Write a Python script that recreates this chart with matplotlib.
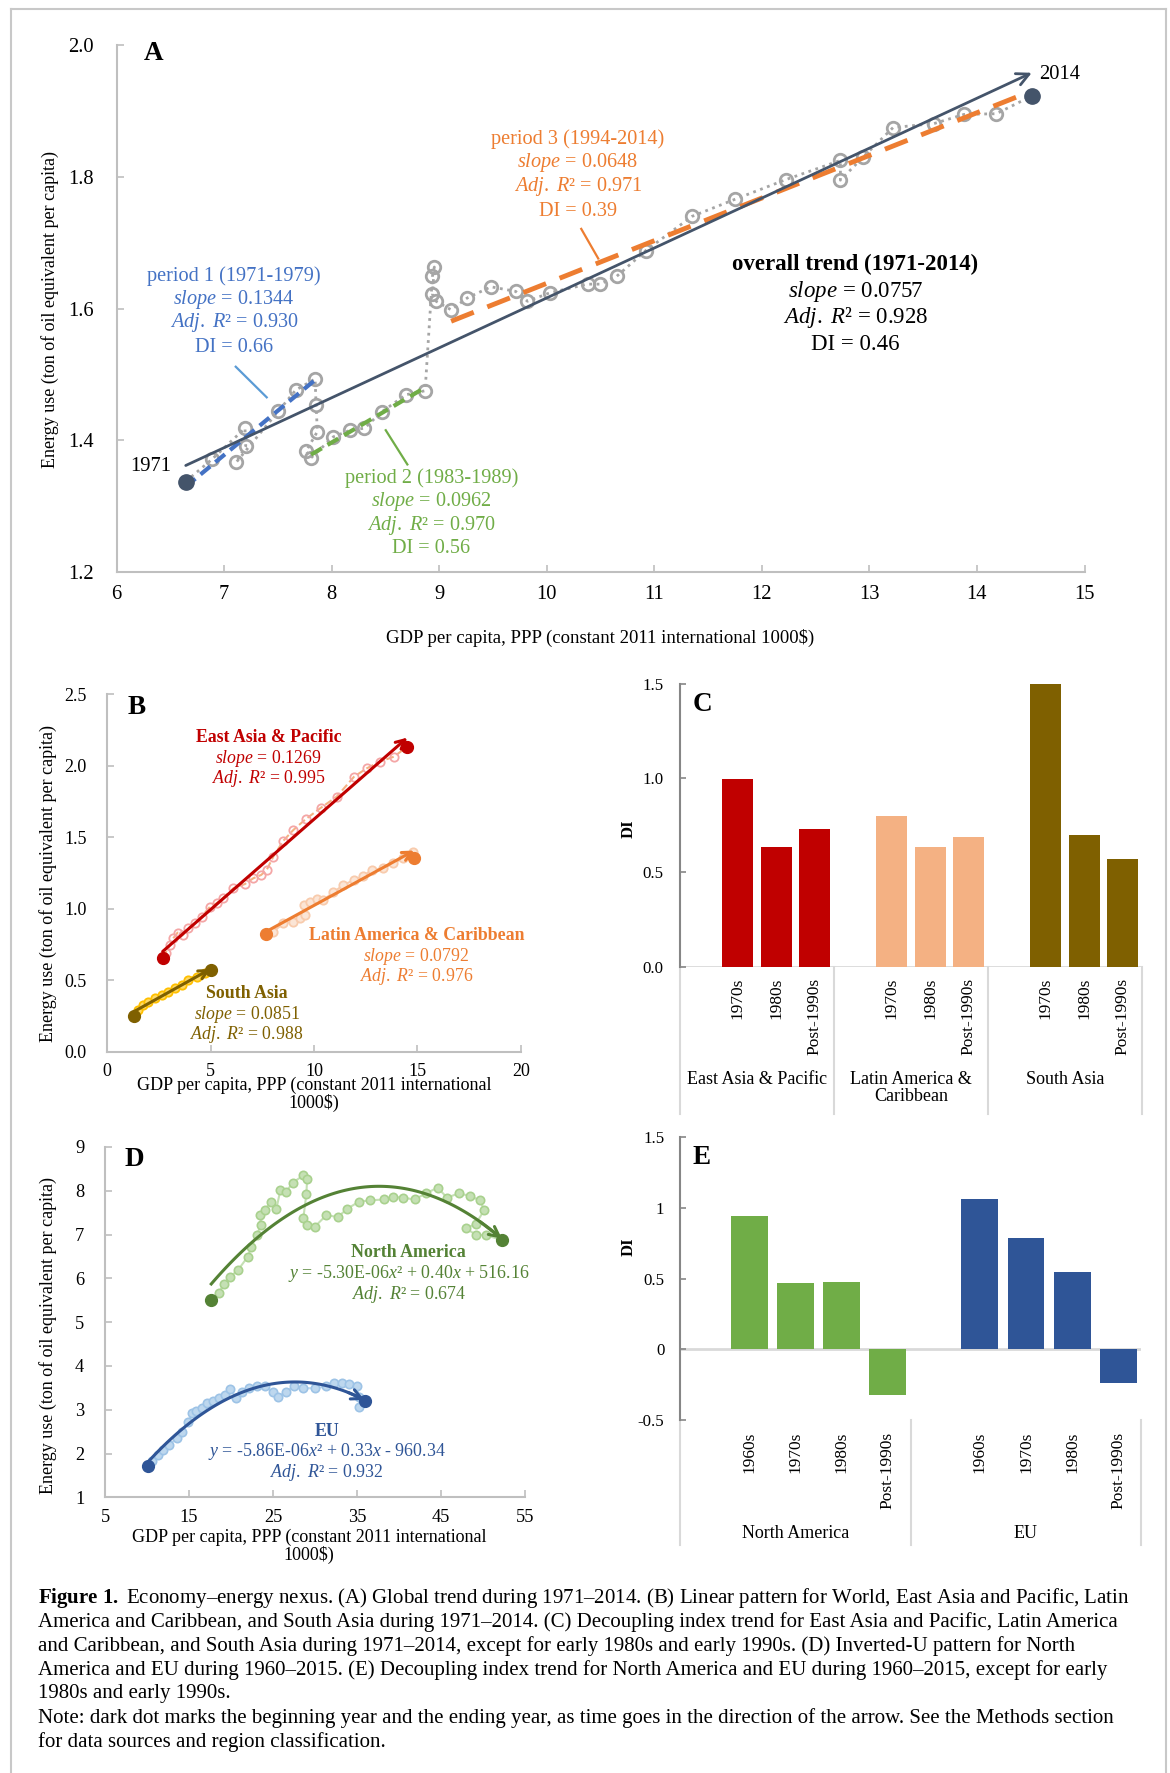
import numpy as np
import matplotlib
matplotlib.use("Agg")
import matplotlib.pyplot as plt
from matplotlib.lines import Line2D
from matplotlib.ticker import FormatStrFormatter, FuncFormatter

plt.rcParams['font.family'] = ['Liberation Serif', 'DejaVu Serif']
plt.rcParams['mathtext.fontset'] = 'custom'
plt.rcParams['mathtext.rm'] = 'Liberation Serif'
plt.rcParams['mathtext.it'] = 'Liberation Serif:italic'
plt.rcParams['mathtext.bf'] = 'Liberation Serif:bold'

# ---------------- data ----------------
# A: world, 1971-2014 (GDP per capita in 1000$, energy in toe per capita)
gdp_world = [6.642, 6.887, 7.193, 7.200, 7.110, 7.503, 7.665, 7.845,
             7.854, 7.866, 7.761,
             7.807, 8.015, 8.170, 8.303, 8.465, 8.691, 8.868,
             8.936, 8.954, 8.936, 8.970,
             9.110, 9.260, 9.480, 9.710, 9.820, 10.030, 10.379, 10.496, 10.650,
             10.920, 11.350, 11.750, 12.225, 12.730, 12.730, 12.940, 13.220,
             13.600, 13.880, 14.180, 14.510]
energy_world = [1.337, 1.371, 1.418, 1.391, 1.366, 1.444, 1.476, 1.493,
                1.454, 1.413, 1.383,
                1.373, 1.405, 1.415, 1.418, 1.443, 1.469, 1.475,
                1.649, 1.663, 1.622, 1.611,
                1.598, 1.616, 1.633, 1.626, 1.611, 1.624, 1.637, 1.637, 1.649,
                1.688, 1.740, 1.766, 1.796, 1.825, 1.795, 1.830, 1.875,
                1.881, 1.895, 1.896, 1.923]
period1 = slice(0, 8)     # 1971-1979
period2 = slice(11, 18)   # 1983-1989
period3 = slice(22, 43)   # 1994-2014

# B: regional linear patterns
gdp_eap = [2.68, 2.82, 3.03, 3.19, 3.40, 3.65, 3.92, 4.24, 4.56, 4.97, 5.29, 5.58, 6.10, 6.66,
           7.06, 7.44, 7.71, 8.03, 8.52, 9.00, 9.61, 10.34, 11.10, 11.94, 12.55, 13.19, 13.87, 14.52]
energy_eap = [0.658, 0.693, 0.746, 0.793, 0.833, 0.816, 0.863, 0.898, 0.945, 1.014, 1.038, 1.073,
              1.143, 1.173, 1.213, 1.236, 1.271, 1.364, 1.476, 1.551, 1.628, 1.707, 1.784, 1.924,
              1.982, 2.029, 2.064, 2.134]
gdp_lac = [7.66, 8.03, 8.52, 9.00, 9.32, 9.56, 9.52, 9.81, 10.13, 10.45, 10.94, 11.42, 11.94,
           12.39, 12.79, 13.35, 13.84, 14.32, 14.81, 14.85]
energy_lac = [0.821, 0.840, 0.898, 0.910, 0.938, 0.956, 1.026, 1.049, 1.066, 1.061, 1.115, 1.166,
              1.201, 1.229, 1.271, 1.283, 1.318, 1.353, 1.399, 1.357]
gdp_sa = [1.29, 1.50, 1.74, 1.98, 2.31, 2.63, 2.95, 3.27, 3.60, 3.92, 4.32, 4.73, 5.00]
energy_sa = [0.252, 0.290, 0.326, 0.350, 0.373, 0.396, 0.415, 0.443, 0.466, 0.501, 0.525, 0.548, 0.571]

# C: decoupling index by decade
regions_c = ['East Asia & Pacific', 'Latin America &\nCaribbean', 'South Asia']
decades_c = ['1970s', '1980s', 'Post-1990s']
di_eap = [0.994, 0.637, 0.731]
di_lac = [0.801, 0.633, 0.686]
di_sa = [1.500, 0.699, 0.574]

# D: inverted-U, 1960-2015
gdp_na = [17.65, 18.56, 19.16, 19.93, 20.84, 21.99, 22.44, 23.04, 23.58, 23.49, 24.04, 24.73,
          25.41, 25.87, 26.55, 27.33, 28.61, 29.06, 28.97, 28.61, 29.06, 29.98, 31.35, 32.72,
          33.86, 35.23, 36.60, 38.20, 39.34, 40.48, 41.85, 43.22, 44.59, 45.73, 47.10, 48.47,
          49.61, 50.16, 49.16, 48.01, 49.16, 50.30, 52.26]
energy_na = [5.50, 5.66, 5.88, 6.04, 6.19, 6.49, 6.72, 6.99, 7.21, 7.44, 7.56, 7.75, 7.59, 8.01,
             7.97, 8.18, 8.35, 8.26, 7.92, 7.37, 7.21, 7.18, 7.44, 7.40, 7.59, 7.75, 7.78, 7.80,
             7.86, 7.84, 7.80, 7.94, 8.07, 7.84, 7.94, 7.88, 7.78, 7.56, 7.25, 7.14, 6.99, 6.99, 6.87]
gdp_eu = [10.11, 10.57, 11.26, 11.94, 12.63, 13.54, 14.22, 14.91, 15.37, 15.82, 16.51, 17.19,
          17.88, 18.56, 19.25, 19.93, 20.62, 21.30, 22.20, 23.10, 24.04, 24.95, 25.64, 26.55,
          27.47, 28.61, 29.98, 31.35, 32.26, 33.17, 34.09, 35.00, 35.23, 35.23, 35.90]
energy_eu = [1.71, 1.82, 1.97, 2.09, 2.20, 2.35, 2.50, 2.73, 2.92, 2.96, 3.03, 3.15, 3.19, 3.26,
             3.34, 3.47, 3.26, 3.41, 3.49, 3.53, 3.53, 3.41, 3.30, 3.41, 3.53, 3.49, 3.49, 3.53,
             3.60, 3.60, 3.59, 3.53, 3.30, 3.07, 3.20]

# E: decoupling index by decade
regions_e = ['North America', 'EU']
decades_e = ['1960s', '1970s', '1980s', 'Post-1990s']
di_na = [0.946, 0.467, 0.479, -0.323]
di_eu = [1.061, 0.785, 0.545, -0.241]

caption = [
    r"$\mathbf{Figure\ 1.}$ Economy–energy nexus. (A) Global trend during 1971–2014. (B) Linear pattern for World, East Asia and Pacific, Latin",
    "America and Caribbean, and South Asia during 1971–2014. (C) Decoupling index trend for East Asia and Pacific, Latin America",
    "and Caribbean, and South Asia during 1971–2014, except for early 1980s and early 1990s. (D) Inverted-U pattern for North",
    "America and EU during 1960–2015. (E) Decoupling index trend for North America and EU during 1960–2015, except for early",
    "1980s and early 1990s.",
    "Note: dark dot marks the beginning year and the ending year, as time goes in the direction of the arrow. See the Methods section",
    "for data sources and region classification.",
]

# ---------------- figure ----------------
W, H = 1170, 1773
fig = plt.figure(figsize=(W / 100, H / 100), dpi=100)


def rect(l, t, r, b):
    return [l / W, 1 - b / H, (r - l) / W, (b - t) / H]


def ftext(x, y, s, **kw):
    fig.text(x / W, 1 - y / H, s, **kw)


def light_axes(ax, xpad, ypad, size):
    for s in ('top', 'right'):
        ax.spines[s].set_visible(False)
    for s in ('left', 'bottom'):
        ax.spines[s].set_color('#bfbfbf')
        ax.spines[s].set_linewidth(1.5)
    ax.tick_params(direction='in', length=5, width=1.2, color='#bfbfbf', labelsize=size)
    ax.tick_params(axis='x', pad=xpad)
    ax.tick_params(axis='y', pad=ypad)


def stack(ax, x, ys, lines, color, size, bold_first=False):
    for i, (y, s) in enumerate(zip(ys, lines)):
        ax.text(x, y, s, color=color, fontsize=size, ha='center', va='center',
                fontweight='bold' if (bold_first and i == 0) else 'normal')


def fit_arrow(ax, x, y, color, lw=2.2, ms=18):
    x = np.asarray(x); y = np.asarray(y)
    k, b = np.polyfit(x, y, 1)
    x0, x1 = x.min(), x.max()
    ax.annotate('', xy=(x1, k * x1 + b), xytext=(x0, k * x0 + b),
                arrowprops=dict(arrowstyle='->', color=color, lw=lw, mutation_scale=ms,
                                shrinkA=0, shrinkB=0), zorder=4)


# frame around the panels
for xs, ys in (([11, 1166], [8.7, 8.7]), ([11, 11], [8.7, H]), ([1166, 1166], [8.7, H])):
    fig.add_artist(Line2D([v / W for v in xs], [1 - v / H for v in ys],
                          transform=fig.transFigure, color='#c8c8c8', lw=1.5))

# ---------- panel A ----------
axA = fig.add_axes(rect(116.7, 45.3, 1084.5, 571.7))
light_axes(axA, 9.7, 16.5, 14.8)
axA.set_xlim(6, 15)
axA.set_ylim(1.2, 2.0)
axA.set_xticks(range(6, 16))
axA.set_yticks([1.2, 1.4, 1.6, 1.8, 2.0])
axA.yaxis.set_major_formatter(FormatStrFormatter('%.1f'))

gw = np.array(gdp_world); ew = np.array(energy_world)
axA.plot(gw, ew, ls=':', color='#a5a5a5', lw=2, marker='o', ms=9, mfc='none',
         mec='#a5a5a5', mew=2, zorder=2)
for sl, col, dash, lw in ((period1, '#4472c4', (3, 1.6), 3),
                          (period2, '#70ad47', (3, 1.6), 3),
                          (period3, '#ed7d31', (5, 3), 3.5)):
    k, b = np.polyfit(gw[sl], ew[sl], 1)
    xx = np.array([gw[sl].min(), gw[sl].max()])
    axA.plot(xx, k * xx + b, color=col, lw=lw, dashes=dash, zorder=3)
fit_arrow(axA, gw, ew, '#44546a', lw=2, ms=22)
axA.plot([gw[0], gw[-1]], [ew[0], ew[-1]], 'o', color='#44546a', ms=11, zorder=5)
axA.text(6.32, 1.36, '1971', fontsize=14.8, ha='center', va='center')
axA.text(14.58, 1.956, '2014', fontsize=14.8, ha='left', va='center')

stack(axA, 7.093, [1.649, 1.613, 1.578, 1.541],
      ['period 1 (1971-1979)', '$slope$ = 0.1344', r'$Adj.\ R$² = 0.930', 'DI = 0.66'],
      '#4472c4', 14.6)
axA.plot([7.107, 7.395], [1.5115, 1.465], color='#5b9bd5', lw=1.6)
stack(axA, 8.925, [1.342, 1.306, 1.270, 1.236],
      ['period 2 (1983-1989)', '$slope$ = 0.0962', r'$Adj.\ R$² = 0.970', 'DI = 0.56'],
      '#70ad47', 14.6)
axA.plot([8.502, 8.703], [1.415, 1.363], color='#70ad47', lw=1.6)
stack(axA, 10.29, [1.857, 1.822, 1.786, 1.748],
      ['period 3 (1994-2014)', '$slope$ = 0.0648', r'$Adj.\ R$² = 0.971', 'DI = 0.39'],
      '#ed7d31', 14.6)
axA.plot([10.32, 10.478], [1.721, 1.676], color='#ed7d31', lw=1.6)
stack(axA, 12.87, [1.667, 1.626, 1.587, 1.546],
      ['overall trend (1971-2014)', '$slope$ = 0.0757', r'$Adj.\ R$² = 0.928', 'DI = 0.46'],
      'black', 16.5, bold_first=True)

ftext(153.5, 53, 'A', fontsize=19.5, fontweight='bold', ha='center', va='center')
ftext(50, 309, 'Energy use (ton of oil equivalent per capita)', fontsize=13,
      rotation=90, ha='center', va='center')
ftext(600, 638, 'GDP per capita, PPP (constant 2011 international 1000$)', fontsize=13.5,
      ha='center', va='center')

# ---------- panel B ----------
axB = fig.add_axes(rect(107.3, 694.3, 520.7, 1051.7))
light_axes(axB, 8.1, 14.8, 13)
axB.set_xlim(0, 20)
axB.set_ylim(0, 2.5)
axB.set_xticks([0, 5, 10, 15, 20])
axB.set_yticks([0, 0.5, 1.0, 1.5, 2.0, 2.5])
axB.yaxis.set_major_formatter(FormatStrFormatter('%.1f'))

axB.plot(gdp_eap, energy_eap, color='#f4b183', lw=1.5, ls='--', marker='o', ms=6,
         mfc='none', mec='#f4a6a6', mew=1.3, zorder=2)
axB.plot(gdp_lac, energy_lac, color='#f8cbad', lw=1.5, marker='o', ms=6,
         mfc='#fbe5d6', mec='#f8cbad', mew=1.3, zorder=2)
axB.plot(gdp_sa, energy_sa, color='#ffc000', lw=3, marker='o', ms=6,
         mfc='#ffd966', mec='#ffc000', mew=1.3, zorder=2)
for gx, ey, col in ((gdp_eap, energy_eap, '#c00000'),
                    (gdp_lac, energy_lac, '#ed7d31'),
                    (gdp_sa, energy_sa, '#7f6000')):
    fit_arrow(axB, gx, ey, col, lw=2.2, ms=16)
    axB.plot([gx[0], gx[-1]], [ey[0], ey[-1]], 'o', color=col, ms=8.5, zorder=5)

stack(axB, 7.81, [2.199, 2.052, 1.912],
      ['East Asia & Pacific', '$slope$ = 0.1269', r'$Adj.\ R$² = 0.995'],
      '#c00000', 12.8, bold_first=True)
stack(axB, 14.95, [0.816, 0.669, 0.529],
      ['Latin America & Caribbean', '$slope$ = 0.0792', r'$Adj.\ R$² = 0.976'],
      '#ed7d31', 12.8, bold_first=True)
stack(axB, 6.76, [0.408, 0.261, 0.121],
      ['South Asia', '$slope$ = 0.0851', r'$Adj.\ R$² = 0.988'],
      '#7f6000', 12.8, bold_first=True)

ftext(136.7, 707, 'B', fontsize=19.5, fontweight='bold', ha='center', va='center')
ftext(48.3, 883, 'Energy use (ton of oil equivalent per capita)', fontsize=13,
      rotation=90, ha='center', va='center')
ftext(314, 1094, 'GDP per capita, PPP (constant 2011 international\n1000$)', fontsize=13,
      ha='center', va='center', linespacing=1.0)


# ---------- bar panels C and E ----------
def bar_panel(ax, groups, decades, values, colors, slots, ymin, ymax, yticks, fmt,
              lab_top, grp_top, sep_bottom, ypad):
    for s in ('top', 'right', 'bottom'):
        ax.spines[s].set_visible(False)
    ax.spines['left'].set_color('#868686')
    ax.spines['left'].set_linewidth(1.5)
    ax.set_xlim(0, slots * len(groups))
    ax.set_ylim(ymin, ymax)
    ax.set_xticks([])
    ax.set_yticks(yticks)
    ax.yaxis.set_major_formatter(FuncFormatter(fmt))
    ax.tick_params(axis='y', direction='in', length=4, width=1.2, color='#868686',
                   labelsize=12.2, pad=ypad)
    ax.axhline(0, color='#d9d9d9', lw=2, zorder=1)
    for g, (name, vals, col) in enumerate(zip(groups, values, colors)):
        pos = [g * slots + 1.5 + k for k in range(len(vals))]
        ax.bar(pos, vals, width=0.8, color=col, zorder=2)
        for p, d in zip(pos, decades):
            ax.text(p, lab_top, d, rotation=90, ha='center', va='top', fontsize=12.5,
                    clip_on=False)
        ax.text(g * slots + slots / 2, grp_top, name, ha='center', va='top', fontsize=13,
                linespacing=1.0, clip_on=False)
    for g in range(len(groups) + 1):
        ax.plot([g * slots, g * slots], [ymin, sep_bottom], color='#d9d9d9', lw=1.5,
                clip_on=False, zorder=1)


axC = fig.add_axes(rect(680, 684, 1142, 966.7))
bar_panel(axC, regions_c, decades_c, [di_eap, di_lac, di_sa],
          ['#c00000', '#f4b183', '#7f6000'], 4, 0, 1.5, [0, 0.5, 1.0, 1.5],
          lambda v, p: f'{v:.1f}', -0.06, -0.555, -0.784, 12)
ftext(702.7, 704.5, 'C', fontsize=19.5, fontweight='bold', ha='center', va='center')
ftext(628.3, 828.3, 'DI', fontsize=12, fontweight='bold', rotation=90, ha='center', va='center')

axE = fig.add_axes(rect(680, 1137.3, 1141.3, 1420))
bar_panel(axE, regions_e, decades_e, [di_na, di_eu], ['#70ad47', '#2f5597'], 5,
          -0.5, 1.5, [-0.5, 0, 0.5, 1, 1.5], lambda v, p: f'{v:g}',
          -0.583, -1.24, -1.384, 11.3)
ftext(701.7, 1157.5, 'E', fontsize=19.5, fontweight='bold', ha='center', va='center')
ftext(628.3, 1246.7, 'DI', fontsize=12, fontweight='bold', rotation=90, ha='center', va='center')

# ---------- panel D ----------
axD = fig.add_axes(rect(105, 1146.9, 525, 1497.3))
light_axes(axD, 8.4, 15, 13.2)
axD.set_xlim(5, 55)
axD.set_ylim(1, 9)
axD.set_xticks([5, 15, 25, 35, 45, 55])
axD.set_yticks(range(1, 10))

for gx, ey, pale, edge, dark in ((gdp_na, energy_na, '#c5e0b4', '#a9d18e', '#548235'),
                                 (gdp_eu, energy_eu, '#bdd7ee', '#9dc3e6', '#2f5597')):
    gx = np.asarray(gx); ey = np.asarray(ey)
    axD.plot(gx, ey, color=pale, lw=1.5, marker='o', ms=6, mfc=pale, mec=edge, mew=1.2, zorder=2)
    coef = np.polyfit(gx, ey, 2)
    xs = np.linspace(gx.min(), gx.max(), 120)
    ys = np.polyval(coef, xs)
    axD.plot(xs[:-2], ys[:-2], color=dark, lw=2.2, zorder=3)
    axD.annotate('', xy=(xs[-1], ys[-1]), xytext=(xs[-10], ys[-10]),
                 arrowprops=dict(arrowstyle='->', color=dark, lw=2.2, mutation_scale=18,
                                 shrinkA=0, shrinkB=0), zorder=4)
    axD.plot([gx[0], gx[-1]], [ey[0], ey[-1]], 'o', color=dark, ms=8.5, zorder=5)

stack(axD, 41.16, [6.58, 6.11, 5.64],
      ['North America', '$y$ = -5.30E-06$x$² + 0.40$x$ + 516.16', r'$Adj.\ R$² = 0.674'],
      '#548235', 12.9, bold_first=True)
stack(axD, 31.44, [2.51, 2.04, 1.57],
      ['EU', '$y$ = -5.86E-06$x$² + 0.33$x$ - 960.34', r'$Adj.\ R$² = 0.932'],
      '#2f5597', 12.9, bold_first=True)

ftext(134.6, 1160, 'D', fontsize=19.5, fontweight='bold', ha='center', va='center')
ftext(48.5, 1335, 'Energy use (ton of oil equivalent per capita)', fontsize=13,
      rotation=90, ha='center', va='center')
ftext(309, 1546.7, 'GDP per capita, PPP (constant 2011 international\n1000$)', fontsize=13,
      ha='center', va='center', linespacing=1.0)

# ---------- caption ----------
for i, line in enumerate(caption):
    ftext(38.3, 1598.3 + i * 23.9, line, fontsize=15, ha='left', va='center')

fig.savefig('out.png', dpi=100)
